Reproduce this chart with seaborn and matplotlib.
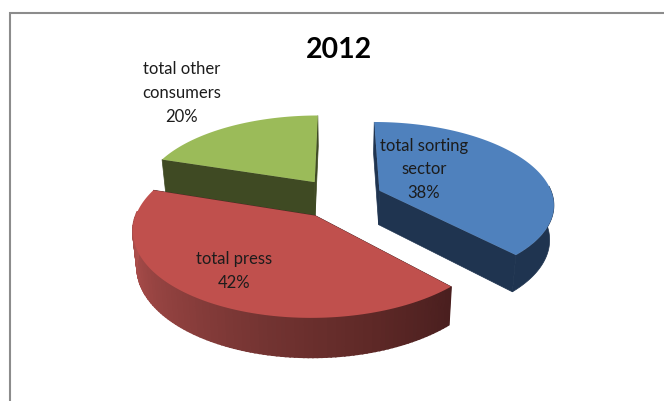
import numpy as np
import matplotlib
matplotlib.use("Agg")
import matplotlib.pyplot as plt
import seaborn as sns

title = "2012"
categories = ["total sorting\nsector", "total press", "total other\nconsumers"]
shares = [38, 42, 20]
top_colors = ["#4f81bd", "#c0504d", "#9bbb59"]
side_colors = ["#1f3450", None, None]
wall_colors = ["#1f3450", "#4a1f1f", "#3f4a23"]
press_side_ramp = ["#b0504d", "#a04846", "#8a3e3c", "#723331", "#5f2927", "#4a1f1f"]
label_centres = [(424, 169.5), (234, 271), (182, 93)]

sns.set_theme(style="white")
plt.rcParams["font.family"] = ["Lato", "DejaVu Sans"]

# perspective model of the tilted pie, in pixels
VX, VY = 339.5, 198.0
RX, RY = 174.0, 81.0
PERSPECTIVE = 0.15
EXPLODE = 0.25
DEPTH = 35.0
BASE_SHRINK = 0.98


def project(theta, explode_mid, radius=1.0, lower=False):
    """Map a clockwise-from-top angle on the pie to screen coordinates."""
    u = radius * np.sin(theta) + EXPLODE * np.sin(explode_mid)
    v = -radius * np.cos(theta) - EXPLODE * np.cos(explode_mid)
    s = 1.0 / (1.0 - PERSPECTIVE * v)
    x = RX * u * s
    y = RY * v * s
    if lower:
        return VX + x * BASE_SHRINK, VY + (y + DEPTH * s) * BASE_SHRINK
    return VX + x, VY + y


def wall(ax, theta, mid, color, z):
    ends = np.array([0.0, theta])
    spokes = np.array([0.0, 1.0])
    xt, yt = project(ends, mid, radius=spokes)
    xb, yb = project(ends, mid, radius=spokes, lower=True)
    ax.fill([xt[0], xt[1], xb[1], xb[0]], [yt[0], yt[1], yb[1], yb[0]],
            facecolor=color, edgecolor=color, lw=0.5, zorder=z)


fig, ax = plt.subplots(figsize=(6.64, 4.01), dpi=100)
fig.subplots_adjust(0, 0, 1, 1)
ax.set_xlim(0, 664)
ax.set_ylim(401, 0)
ax.axis("off")

# chart-area frame running off the right and bottom edges
ax.plot([10, 10, 664], [401, 13, 13], color="#8c8c8c", lw=1.5, solid_joinstyle="miter", zorder=1)

bounds = np.cumsum([0] + shares) / sum(shares) * 2 * np.pi
z = 2.0
# back-to-front painting order
for i in [2, 0, 1]:
    start, end = bounds[i], bounds[i + 1]
    mid = (start + end) / 2
    theta = np.linspace(start, end, 121)

    wall(ax, start, mid, wall_colors[i], z)
    wall(ax, end, mid, wall_colors[i], z)
    z += 1

    # only the viewer-facing part of the rim is painted
    rim = theta[np.cos(theta) < 0.06]
    if rim.size > 1:
        xt, yt = project(rim, mid)
        xb, yb = project(rim, mid, lower=True)
        if side_colors[i] is not None:
            ax.fill(np.r_[xt, xb[::-1]], np.r_[yt, yb[::-1]],
                    facecolor=side_colors[i], edgecolor=side_colors[i], lw=0.5, zorder=z)
        else:
            ramp = sns.blend_palette(press_side_ramp, n_colors=len(rim) - 1)[::-1]
            for j in range(len(rim) - 1):
                ax.fill([xt[j], xt[j + 1], xb[j + 1], xb[j]], [yt[j], yt[j + 1], yb[j + 1], yb[j]],
                        facecolor=ramp[j], edgecolor=ramp[j], lw=1.2, zorder=z + j * 0.001)
        z += 1

    px, py = project(np.r_[0.0, theta], mid, radius=np.r_[0.0, np.ones_like(theta)])
    ax.fill(px, py, color=top_colors[i], lw=0, zorder=z)
    z += 1

for name, share, (cx, cy) in zip(categories, shares, label_centres):
    ax.text(cx, cy, f"{name}\n{share}%", ha="center", va="center", fontsize=12,
            color="#1c1c1c", linespacing=1.58, zorder=50)

ax.text(338.5, 49.5, title, ha="center", va="center", fontsize=20.5, fontweight="bold", color="black", zorder=50)

fig.savefig("out.png", dpi=100, facecolor="white")
